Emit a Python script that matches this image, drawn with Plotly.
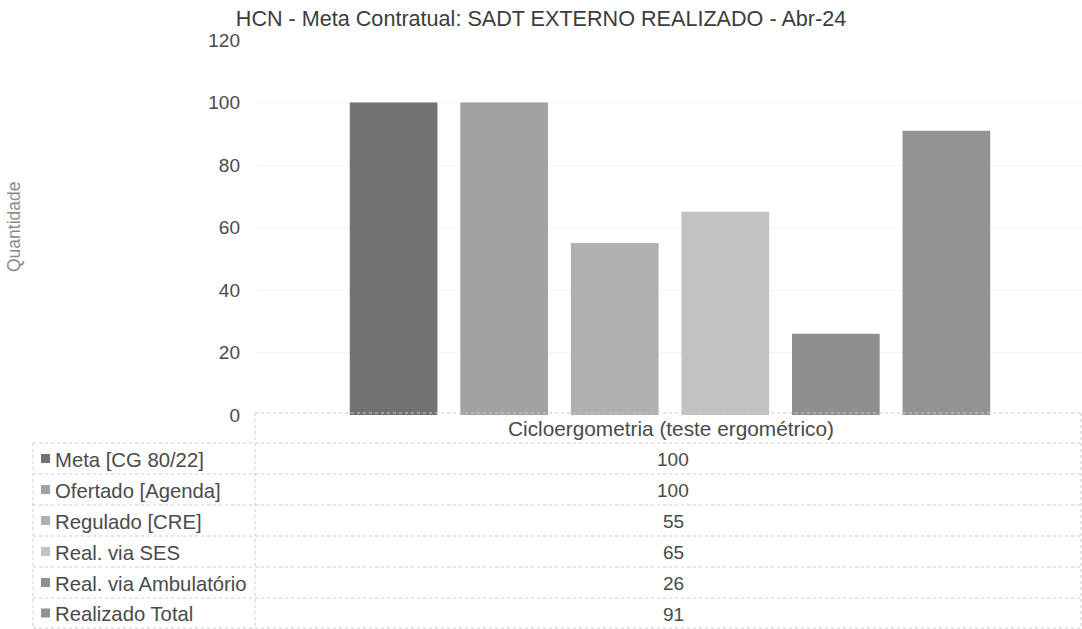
import plotly.graph_objects as go

title = "HCN - Meta Contratual: SADT EXTERNO REALIZADO - Abr-24"
category = "Cicloergometria (teste ergométrico)"
y_title = "Quantidade"
series_names = ["Meta [CG 80/22]", "Ofertado [Agenda]", "Regulado [CRE]",
                "Real. via SES", "Real. via Ambulatório", "Realizado Total"]
series_values = [100, 100, 55, 65, 26, 91]
series_colors = ["#727272", "#a2a2a2", "#b0b0b0", "#c2c2c2", "#8f8f8f", "#939393"]
y_ticks = [0, 20, 40, 60, 80, 100, 120]

W, H = 1082, 629
def px(x):
    return x / W
def py(y):
    return 1 - y / H

fig = go.Figure()
for name, val, col in zip(series_names, series_values, series_colors):
    fig.add_trace(go.Bar(x=[category], y=[val], name=name, marker=dict(color=col, line=dict(width=0)),
                         showlegend=False))

font_family = "Liberation Sans, Arial, sans-serif"
text_col = "#4a4a4a"

fig.update_layout(
    width=W, height=H,
    margin=dict(l=0, r=0, t=0, b=0, pad=0),
    paper_bgcolor="white", plot_bgcolor="white",
    barmode="group", bargap=0.195, bargroupgap=0.207,
    font=dict(family=font_family, color=text_col),
    title=dict(text=title, x=0.5, xanchor="center", y=py(18), yanchor="middle",
               font=dict(size=21.6, color="#3c3c3c", family=font_family)),
    xaxis=dict(domain=[px(258), 1], showticklabels=False, showgrid=False,
               zeroline=False, showline=False, ticks="", automargin=False),
    yaxis=dict(domain=[py(415), py(40)], range=[0, 120], tickvals=y_ticks,
               showgrid=True, gridcolor="#f5f5f5", zeroline=False, showline=False,
               tickfont=dict(size=19, color=text_col), ticklabelstandoff=17,
               automargin=False),
)

shapes = []
dot = dict(color="#cccccc", width=1, dash="dot")
shapes.append(dict(type="line", xref="paper", yref="paper", x0=px(255), x1=1, y0=py(413), y1=py(413), line=dot))
row_lines = [443, 474, 505, 536, 567, 598, 628]
for y in row_lines:
    shapes.append(dict(type="line", xref="paper", yref="paper", x0=px(33), x1=1, y0=py(y), y1=py(y), line=dot))
shapes.append(dict(type="line", xref="paper", yref="paper", x0=px(255), x1=px(255), y0=py(413), y1=py(628), line=dot))
shapes.append(dict(type="line", xref="paper", yref="paper", x0=px(33), x1=px(33), y0=py(443), y1=py(628), line=dot))
shapes.append(dict(type="line", xref="paper", yref="paper", x0=px(1081), x1=px(1081), y0=py(413), y1=py(628), line=dot))

annotations = [
    dict(text=category, xref="paper", yref="paper", x=px(671), y=py(428),
         xanchor="center", yanchor="middle", showarrow=False, font=dict(size=20.8, color=text_col)),
    dict(text=y_title, xref="paper", yref="paper", x=px(14), y=py(227), textangle=-90,
         xanchor="center", yanchor="middle", showarrow=False, font=dict(size=17.5, color="#8a8a8a")),
]
for i, (name, val, col) in enumerate(zip(series_names, series_values, series_colors)):
    yc = (row_lines[i] + row_lines[i + 1]) / 2
    shapes.append(dict(type="rect", xref="paper", yref="paper", x0=px(41), x1=px(50),
                       y0=py(yc + 4.5), y1=py(yc - 4.5), fillcolor=col, line=dict(width=0)))
    annotations.append(dict(text=name, xref="paper", yref="paper", x=px(53), y=py(yc + 1),
                            xanchor="left", yanchor="middle", showarrow=False,
                            font=dict(size=20.3, color=text_col)))
    annotations.append(dict(text=str(val), xref="paper", yref="paper", x=px(673), y=py(yc + 1),
                            xanchor="center", yanchor="middle", showarrow=False,
                            font=dict(size=19, color=text_col)))

fig.update_layout(shapes=shapes, annotations=annotations)
fig.write_html("out.html", config={"displayModeBar": False},
               post_script="document.body.style.margin='0';document.body.style.overflow='hidden';")
